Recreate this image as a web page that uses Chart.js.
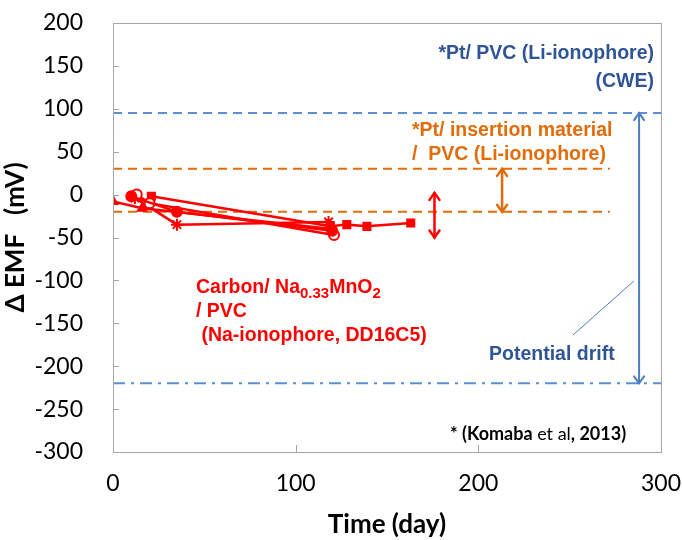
<!DOCTYPE html>
<html><head><meta charset="utf-8">
<script src="https://cdn.jsdelivr.net/npm/chart.js@4/dist/chart.umd.min.js"></script>
<style>html,body{margin:0;padding:0;background:#fff}#wrap{width:682px;height:540px}</style>
</head><body><div id="wrap"><canvas id="c" width="682" height="540"></canvas></div>
<script>
// ---- data ----
const xTicks = [0, 100, 200, 300];
const yTicks = [200, 150, 100, 50, 0, -50, -100, -150, -200, -250, -300];
const triDays = [0, 16, 120];
const triEMF = [-8, -16, -40];
const dotDays = [10, 35, 120];
const dotEMF = [-2, -20, -42];
const ringDays = [13, 20, 121];
const ringEMF = [0, -10, -47];
const sqDays = [21, 119, 128, 139, 163];
const sqEMF = [-2, -37, -35, -37, -33];
const starDays = [12, 35, 118];
const starEMF = [-4, -35, -32];
const cweHigh = 95, cweLow = -220;
const insHigh = 30, insLow = -20;
const insEnd = 272;
const naArrow = [176, 2, -50];
const insArrow = [213, 30, -20];
const cweArrow = [288, 95, -220];

const pts = (xs, ys) => xs.map((x, i) => ({x, y: ys[i]}));
const RED = '#FF0000', ORANGE = '#E36C0A', BLUE = '#5B8FD5', DBLUE = '#2F5597', AR = '#4A7EC0';

function redSet(xs, ys, style, fill) {
  return {data: pts(xs, ys), showLine: true, borderColor: RED, borderWidth: 2.5,
    pointStyle: style, pointRadius: style === 'star' ? 6 : 5,
    pointBackgroundColor: fill ? RED : '#fff', pointBorderColor: RED, pointBorderWidth: 2};
}
function hline(y, x1, x2, color, dash) {
  return {data: [{x: x1, y}, {x: x2, y}], showLine: true, borderColor: color, borderWidth: 2,
    borderDash: dash, pointRadius: 0, order: 5};
}

const annot = {
  id: 'annot',
  afterDatasetsDraw(chart) {
    const {ctx, scales: {x, y}, chartArea: a} = chart;
    ctx.save();
    // frame
    ctx.strokeStyle = '#A6A6A6'; ctx.lineWidth = 1;
    ctx.strokeRect(Math.round(a.left) + 0.5, Math.round(a.top) + 0.5, Math.round(a.width), Math.round(a.height));
    // tick marks
    yTicks.forEach(v => { const py = Math.round(y.getPixelForValue(v)) + 0.5;
      ctx.beginPath(); ctx.moveTo(a.left, py); ctx.lineTo(a.left + 6, py); ctx.stroke(); });
    xTicks.forEach(v => { const px = Math.round(x.getPixelForValue(v)) + 0.5;
      ctx.beginPath(); ctx.moveTo(px, a.bottom); ctx.lineTo(px, a.bottom - 7); ctx.stroke(); });
    // arrows
    function arrow(spec, color, w) {
      const px = x.getPixelForValue(spec[0]);
      const p1 = y.getPixelForValue(spec[1]), p2 = y.getPixelForValue(spec[2]);
      ctx.strokeStyle = color; ctx.lineWidth = w; ctx.lineCap = 'round';
      ctx.beginPath(); ctx.moveTo(px, p1); ctx.lineTo(px, p2); ctx.stroke();
      ctx.beginPath(); ctx.moveTo(px - 5, p1 + 7); ctx.lineTo(px, p1); ctx.lineTo(px + 5, p1 + 7); ctx.stroke();
      ctx.beginPath(); ctx.moveTo(px - 5, p2 - 7); ctx.lineTo(px, p2); ctx.lineTo(px + 5, p2 - 7); ctx.stroke();
    }
    arrow(naArrow, RED, 2.5);
    arrow(insArrow, ORANGE, 2.5);
    arrow(cweArrow, AR, 2);
    // callout line
    ctx.strokeStyle = AR; ctx.lineWidth = 1;
    ctx.beginPath(); ctx.moveTo(573, 335);
    ctx.lineTo(x.getPixelForValue(285), y.getPixelForValue(-101)); ctx.stroke();
    // texts
    const F = 'bold 19.5px "Liberation Sans", Arial, sans-serif';
    ctx.font = F; ctx.textBaseline = 'alphabetic';
    ctx.fillStyle = DBLUE; ctx.textAlign = 'right';
    ctx.fillText('*Pt/ PVC (Li-ionophore)', 654, 59);
    ctx.fillText('(CWE)', 654, 87);
    ctx.fillStyle = ORANGE; ctx.textAlign = 'left';
    ctx.fillText('*Pt/ insertion material', 412, 136);
    ctx.fillText('/  PVC (Li-ionophore)', 412, 160);
    ctx.fillStyle = DBLUE;
    ctx.fillText('Potential drift', 489, 360);
    // red text with subscripts
    ctx.fillStyle = RED;
    let tx = 196; const ty = 293;
    const seg = (s, sub) => { ctx.font = sub ? 'bold 15px "Liberation Sans", Arial, sans-serif' : F;
      ctx.fillText(s, tx, sub ? ty + 5 : ty); tx += ctx.measureText(s).width; };
    seg('Carbon/ Na'); seg('0.33', true); seg('MnO'); seg('2', true);
    ctx.font = F;
    ctx.fillText('/ PVC', 196, 317);
    ctx.fillText(' (Na-ionophore, DD16C5)', 196, 341);
    // reference
    ctx.fillStyle = '#000';
    let rx = 450; const ry = 440;
    const rs = (s, b) => { ctx.font = (b ? 'bold ' : '') + '18px Lato, "Open Sans", sans-serif';
      ctx.fillText(s, rx, ry); rx += ctx.measureText(s).width; };
    rs('* (Komaba', true); rs(' et al', false); rs(', 2013)', true);
    ctx.restore();
  }
};

const tickFont = {family: 'Lato, "Open Sans", sans-serif', size: 23};
new Chart(document.getElementById('c'), {
  type: 'scatter',
  data: {datasets: [
    hline(cweHigh, 0, 300, BLUE, [9, 6]),
    hline(cweLow, 0, 300, BLUE, [12, 6, 3, 6]),
    hline(insHigh, 0, insEnd, ORANGE, [9, 6]),
    hline(insLow, 0, insEnd, ORANGE, [9, 6]),
    redSet(triDays, triEMF, 'triangle', true),
    redSet(dotDays, dotEMF, 'circle', true),
    redSet(ringDays, ringEMF, 'circle', false),
    redSet(sqDays, sqEMF, 'rect', true),
    redSet(starDays, starEMF, 'star', true)
  ]},
  options: {
    responsive: false, animation: false,
    layout: {padding: {left: 0, right: 21, top: 23, bottom: 0}},
    plugins: {legend: {display: false}, tooltip: {enabled: false}},
    scales: {
      x: {type: 'linear', min: 0, max: 300,
        afterBuildTicks: s => { s.ticks = xTicks.map(v => ({value: v})); },
        afterFit: s => { s.height = 88; s.paddingLeft = 0; s.paddingRight = 0; },
        grid: {display: false}, border: {display: false},
        ticks: {font: tickFont, color: '#000', padding: 10, maxRotation: 0},
        title: {display: true, text: 'Time (day)', color: '#000', padding: {top: 10, bottom: 0},
          font: {family: 'Lato, "Open Sans", sans-serif', size: 26, weight: 'bold'}}},
      y: {min: -300, max: 200,
        afterBuildTicks: s => { s.ticks = yTicks.map(v => ({value: v})); },
        afterFit: s => { s.width = 113; s.paddingTop = 0; s.paddingBottom = 0; },
        grid: {display: false}, border: {display: false},
        ticks: {font: tickFont, color: '#000', padding: 22},
        title: {display: true, text: 'Δ EMF   (mV)', color: '#000', padding: {top: 0, bottom: 0},
          font: {family: 'Lato, "Open Sans", sans-serif', size: 26, weight: 'bold'}}}
    }
  },
  plugins: [annot]
});
</script></body></html>
